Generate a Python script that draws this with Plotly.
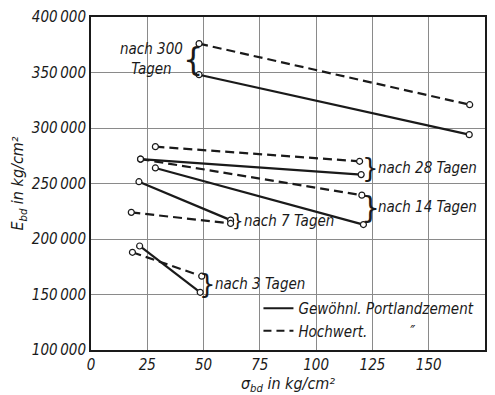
import plotly.graph_objects as go

# ---- data ----
ages = ["3", "7", "14", "28", "300"]
sigma_gew = [[21.6, 48.5], [21.3, 62.0], [28.6, 121.0], [22.0, 120.0], [48.0, 168.0]]
E_gew = [[193700, 152000], [251600, 217000], [264000, 213000], [272000, 258000], [348000, 294000]]
sigma_hoch = [[18.4, 49.2], [17.9, 62.0], [22.0, 120.3], [28.6, 119.3], [48.0, 168.2]]
E_hoch = [[188000, 166500], [224000, 214000], [272000, 239500], [283200, 270000], [376000, 321000]]

x_ticks = [0, 25, 50, 75, 100, 125, 150, 175]
y_ticks = [100000, 150000, 200000, 250000, 300000, 350000, 400000]
y_ticktext = [f"{v:,}".replace(",", "\u2009") for v in y_ticks]

legend_names = ["Gewöhnl. Portlandzement", "Hochwert." + "\u00a0" * 10 + "\u2033"]

FONT = "Liberation Sans Narrow, DejaVu Sans Condensed, Liberation Sans, sans-serif"

fig = go.Figure()

for sx, ey in zip(sigma_gew, E_gew):
    fig.add_trace(go.Scatter(
        x=sx, y=ey, mode="lines+markers", showlegend=False,
        line=dict(color="#1a1a1a", width=2.2),
        marker=dict(symbol="circle", size=6, color="white",
                    line=dict(color="#1a1a1a", width=1.2)),
        cliponaxis=False))
for sx, ey in zip(sigma_hoch, E_hoch):
    fig.add_trace(go.Scatter(
        x=sx, y=ey, mode="lines+markers", showlegend=False,
        line=dict(color="#1a1a1a", width=2.2, dash="9px,5px"),
        marker=dict(symbol="circle", size=6, color="white",
                    line=dict(color="#1a1a1a", width=1.2)),
        cliponaxis=False))

# legend-only traces
fig.add_trace(go.Scatter(x=[None], y=[None], mode="lines", name=legend_names[0],
                         line=dict(color="#1a1a1a", width=2)))
fig.add_trace(go.Scatter(x=[None], y=[None], mode="lines", name=legend_names[1],
                         line=dict(color="#1a1a1a", width=2, dash="8px,5px")))

# ---- annotations: braces + labels ----
ann = []
def brace(x, y, ch, size):
    ann.append(dict(x=x, y=y, xref="x", yref="y", text=ch, showarrow=False,
                    font=dict(size=size, family="DejaVu Sans", color="#1a1a1a"),
                    xanchor="center", yanchor="middle"))
def label(x, y, txt, xanchor="left", align="left"):
    ann.append(dict(x=x, y=y, xref="x", yref="y", text=f"<i>{txt}</i>", showarrow=False,
                    font=dict(size=15, family=FONT, color="#1a1a1a", style="italic"),
                    xanchor=xanchor, yanchor="middle", align=align))

brace(45.5, 362000, "{", 32)
label(27, 362500, "nach 300<br>Tagen", xanchor="center", align="center")
brace(124, 264000, "}", 26)
label(126.5, 264000, "nach 28 Tagen")
brace(124, 228000, "}", 30)
label(126.5, 229000, "nach 14 Tagen")
brace(65, 216500, "}", 18)
label(67.2, 216500, "nach 7 Tagen")
brace(51.8, 159500, "}", 26)
label(54, 159500, "nach 3 Tagen")

fig.update_layout(
    width=495, height=395,
    margin=dict(l=91, r=8, t=11, b=45),
    paper_bgcolor="white", plot_bgcolor="white",
    font=dict(family=FONT, size=14, color="#1a1a1a"),
    annotations=ann,
    showlegend=True,
    legend=dict(x=0.425, y=0.174, xanchor="left", yanchor="top",
                bgcolor="rgba(0,0,0,0)", borderwidth=0,
                font=dict(size=15, family=FONT, color="#1a1a1a", style="italic"),
                itemwidth=30, tracegroupgap=0),
    xaxis=dict(range=[0, 175], tickvals=x_ticks,
               ticktext=[f"<i>{v}</i>" for v in x_ticks],
               showgrid=True, gridcolor="#8a8a8a", gridwidth=1,
               showline=True, linecolor="#1a1a1a", linewidth=2, mirror=True,
               ticks="", zeroline=False,
               tickfont=dict(size=15, family=FONT, style="italic"),
               title=dict(text="<i>σ<sub>bd</sub> in kg/cm²</i>",
                          font=dict(size=16, family=FONT, style="italic"),
                          standoff=0)),
    yaxis=dict(range=[100000, 400000], tickvals=y_ticks,
               ticktext=[f"<i>{t}</i>" for t in y_ticktext],
               showgrid=True, gridcolor="#8a8a8a", gridwidth=1,
               showline=True, linecolor="#1a1a1a", linewidth=2, mirror=True,
               ticks="", zeroline=False,
               tickfont=dict(size=15, family=FONT, style="italic"),
               title=dict(text="<i>E<sub>bd</sub> in kg/cm²</i>",
                          font=dict(size=16, family=FONT, style="italic"),
                          standoff=4)),
)

fig.write_html("out.html")
